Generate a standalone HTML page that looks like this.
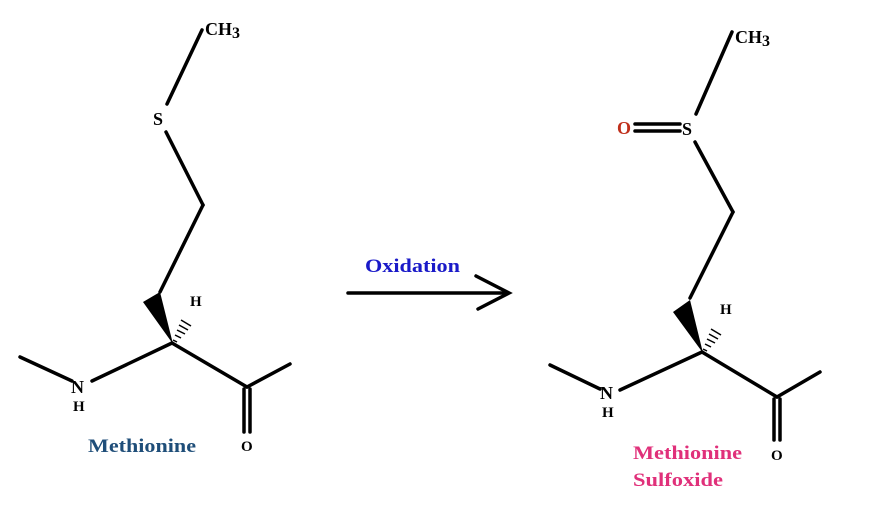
<!DOCTYPE html>
<html><head><style>body{margin:0;background:#fff}svg{display:block}text{font-family:"Liberation Serif",serif;font-weight:bold}</style></head><body>
<svg width="894" height="512" viewBox="0 0 894 512" xmlns="http://www.w3.org/2000/svg">
<g stroke="#000" stroke-width="3.5" fill="none" stroke-linecap="round">
<line x1="202" y1="30" x2="167" y2="104"/>
<line x1="166" y1="132" x2="203" y2="205"/>
<line x1="203" y1="205" x2="160" y2="292"/>
<line x1="172" y1="343" x2="92" y2="381"/>
<line x1="20" y1="357" x2="72" y2="381"/>
<line x1="172" y1="343" x2="247" y2="387"/>
<line x1="247" y1="387" x2="290" y2="364"/>
<line x1="244" y1="389" x2="244" y2="432"/>
<line x1="250" y1="389" x2="250" y2="432"/>
<line x1="732" y1="32" x2="696" y2="114"/>
<line x1="695" y1="142" x2="733" y2="212"/>
<line x1="733" y1="212" x2="690" y2="298"/>
<line x1="702" y1="352" x2="620" y2="390"/>
<line x1="550" y1="365" x2="600" y2="389"/>
<line x1="702" y1="352" x2="777" y2="397"/>
<line x1="777" y1="397" x2="820" y2="372"/>
<line x1="774" y1="399" x2="774" y2="440"/>
<line x1="780" y1="399" x2="780" y2="440"/>
<line x1="635" y1="124" x2="680" y2="124"/>
<line x1="635" y1="131" x2="680" y2="131"/>
<line x1="348" y1="293" x2="508" y2="293"/>
<polyline points="476,276 509,293 478,309"/>
</g>
<polygon points="143,302 160,292 173,344" fill="#000"/>
<polygon points="673,312 690,300 703,353" fill="#000"/>
<g stroke="#000" stroke-width="1.5">
<line x1="173" y1="340" x2="177" y2="342"/><line x1="175" y1="335" x2="181" y2="338"/><line x1="177" y1="330" x2="185" y2="334"/><line x1="179" y1="325" x2="188" y2="330"/><line x1="181" y1="320" x2="191" y2="326"/>
<line x1="703" y1="349" x2="707" y2="351"/><line x1="705" y1="344" x2="711" y2="347"/><line x1="707" y1="339" x2="715" y2="343"/><line x1="709" y1="334" x2="718" y2="339"/><line x1="711" y1="329" x2="721" y2="335"/>
</g>
<g font-size="18" fill="#000">
<text x="205" y="35">CH<tspan font-size="16" dy="3">3</tspan></text>
<text x="153" y="125">S</text>
<text x="190" y="306" font-size="15">H</text>
<text x="71" y="393">N</text>
<text x="73" y="411" font-size="15">H</text>
<text x="241" y="451" font-size="15">O</text>
<text x="735" y="43">CH<tspan font-size="16" dy="3">3</tspan></text>
<text x="682" y="135">S</text>
<text x="720" y="314" font-size="15">H</text>
<text x="600" y="399">N</text>
<text x="602" y="417" font-size="15">H</text>
<text x="771" y="460" font-size="15">O</text>
<text x="617" y="134" fill="#c0301c">O</text>
</g>
<text x="88" y="452" font-size="19" fill="#1f4e79" textLength="108" lengthAdjust="spacingAndGlyphs">Methionine</text>
<text x="365" y="272" font-size="19" fill="#1a1ac8" textLength="95" lengthAdjust="spacingAndGlyphs">Oxidation</text>
<text x="633" y="459" font-size="19" fill="#e0307a" textLength="109" lengthAdjust="spacingAndGlyphs">Methionine</text>
<text x="633" y="486" font-size="19" fill="#e0307a" textLength="90" lengthAdjust="spacingAndGlyphs">Sulfoxide</text>
</svg>
</body></html>
